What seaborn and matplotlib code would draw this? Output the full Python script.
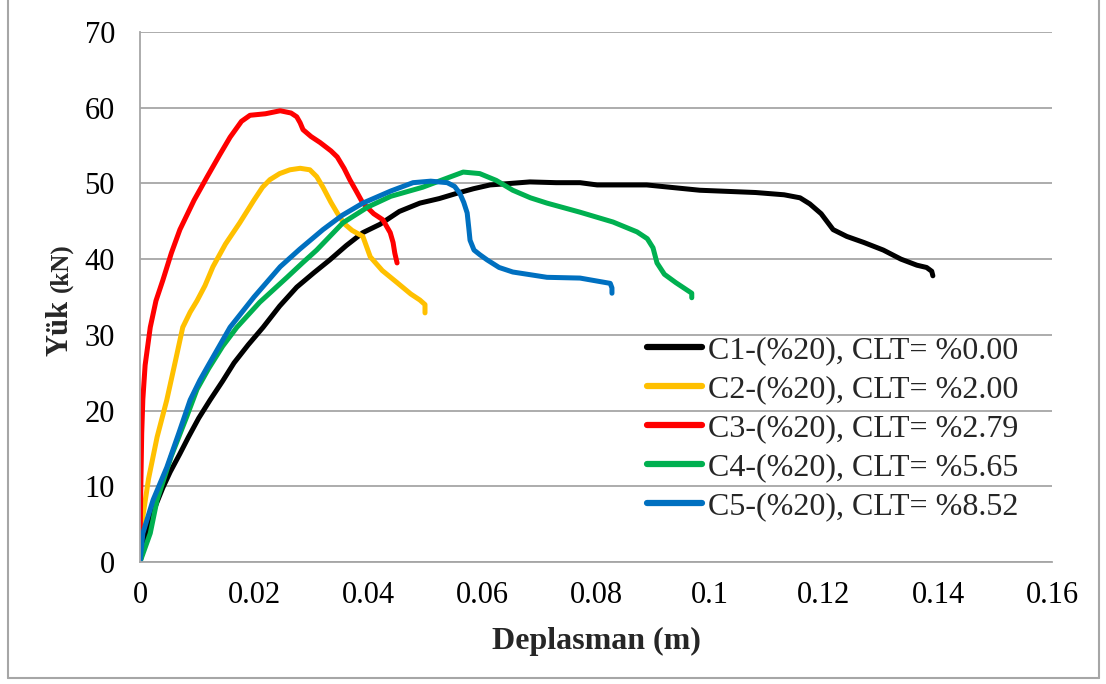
import numpy as np
import pandas as pd
import seaborn as sns
import matplotlib.pyplot as plt
from matplotlib.lines import Line2D

# ---- data ----
c1_x = [0.0, 0.001, 0.0025, 0.0040, 0.0053, 0.0070, 0.0085, 0.0103, 0.0123, 0.0145, 0.0165, 0.0190,
        0.0216, 0.0245, 0.0275, 0.0305, 0.0333, 0.0362, 0.0391, 0.0421, 0.0455, 0.0491, 0.0525,
        0.0556, 0.0585, 0.0614, 0.0650, 0.0684, 0.0730, 0.0772, 0.0802, 0.0889, 0.0982, 0.108,
        0.1130, 0.1158, 0.1175, 0.1195, 0.1216, 0.1240, 0.1270, 0.1304, 0.1335, 0.1363, 0.1380,
        0.1389, 0.1391]
c1_y = [0.0, 3.0, 7.0, 9.8, 11.9, 14.3, 16.5, 19.0, 21.4, 23.9, 26.3, 28.7,
        31.0, 33.8, 36.3, 38.2, 39.9, 41.8, 43.5, 44.6, 46.3, 47.4, 48.0,
        48.7, 49.3, 49.8, 50.0, 50.2, 50.1, 50.1, 49.8, 49.8, 49.1, 48.8,
        48.5, 48.1, 47.3, 46.0, 43.9, 43.0, 42.2, 41.2, 40.0, 39.2, 38.9,
        38.4, 37.8]

c2_x = [0.0, 0.0004, 0.0015, 0.0030, 0.0047, 0.0062, 0.0075, 0.0088, 0.0100, 0.0114, 0.0128, 0.0150,
        0.0175, 0.0200, 0.0215, 0.0228, 0.0245, 0.0263, 0.0281, 0.0298, 0.0310, 0.0321, 0.0335,
        0.0346, 0.0358, 0.0372, 0.0391, 0.0404, 0.0425, 0.0451, 0.0475, 0.0491, 0.0500, 0.0500]
c2_y = [0.0, 5.5, 11.0, 16.5, 21.4, 26.5, 31.0, 33.0, 34.5, 36.5, 39.0, 42.0,
        44.8, 47.8, 49.5, 50.5, 51.3, 51.8, 52.0, 51.8, 50.9, 49.5, 47.5,
        46.1, 44.7, 43.8, 43.0, 40.3, 38.5, 36.9, 35.4, 34.6, 34.0, 32.9]

c3_x = [0.0, 0.0001, 0.0003, 0.0005, 0.0009, 0.0018, 0.0028, 0.0040, 0.0055, 0.0070, 0.0095, 0.0118,
        0.0140, 0.0158, 0.0178, 0.0193, 0.0220, 0.0246, 0.0265, 0.0275, 0.0281, 0.0286, 0.0300,
        0.0316, 0.0335, 0.0346, 0.0358, 0.0368, 0.0380, 0.0391, 0.0410, 0.0426, 0.0439, 0.0444,
        0.0447, 0.0451]
c3_y = [0.0, 8.0, 17.0, 21.5, 26.0, 31.0, 34.5, 37.2, 40.8, 43.9, 47.8, 50.9,
        53.8, 56.1, 58.2, 59.0, 59.2, 59.6, 59.3, 58.8, 58.0, 57.1, 56.2,
        55.4, 54.3, 53.5, 52.0, 50.5, 48.9, 47.4, 46.0, 45.2, 43.5, 42.2,
        40.8, 39.5]

c4_x = [0.0, 0.0018, 0.0030, 0.0055, 0.0082, 0.0100, 0.0120, 0.0145, 0.0170, 0.0210, 0.0258, 0.0285,
        0.0310, 0.0356, 0.0400, 0.0440, 0.0496, 0.0535, 0.0567, 0.0596, 0.0625, 0.0654, 0.0685,
        0.0714, 0.0772, 0.0830, 0.0872, 0.0890, 0.0900, 0.0907, 0.0920, 0.0940, 0.0960, 0.0968,
        0.0968]
c4_y = [0.0, 3.8, 8.2, 14.0, 19.2, 22.8, 25.5, 28.5, 31.0, 34.3, 37.6, 39.5,
        41.2, 44.8, 46.9, 48.3, 49.5, 50.6, 51.5, 51.3, 50.4, 49.1, 48.1,
        47.4, 46.2, 44.9, 43.6, 42.7, 41.5, 39.5, 38.0, 36.9, 35.9, 35.5,
        34.9]

c5_x = [0.0, 0.0005, 0.0023, 0.0047, 0.0068, 0.0088, 0.0105, 0.0120, 0.0158, 0.0200, 0.0246, 0.0280,
        0.0321, 0.0355, 0.0391, 0.0440, 0.0479, 0.0510, 0.0539, 0.0552, 0.0561, 0.0568, 0.0574,
        0.0577, 0.0579, 0.0586, 0.0596, 0.0609, 0.0630, 0.0654, 0.0714, 0.0772, 0.0825, 0.0828,
        0.0828]
c5_y = [0.0, 3.8, 8.2, 12.5, 17.0, 21.4, 24.0, 26.0, 31.0, 35.0, 39.0, 41.3,
        43.9, 45.8, 47.4, 49.0, 50.1, 50.3, 50.1, 49.6, 48.7, 47.5, 46.1,
        44.0, 42.5, 41.2, 40.6, 39.9, 38.9, 38.3, 37.6, 37.5, 36.8, 36.2,
        35.5]

labels = ["C1-(%20), CLT= %0.00", "C2-(%20), CLT= %2.00", "C3-(%20), CLT= %2.79",
          "C4-(%20), CLT= %5.65", "C5-(%20), CLT= %8.52"]
colors = ["#000000", "#FFC000", "#FF0000", "#00B050", "#0070C0"]
x_ticks = [0, 0.02, 0.04, 0.06, 0.08, 0.1, 0.12, 0.14, 0.16]
x_tick_labels = ["0", "0.02", "0.04", "0.06", "0.08", "0.1", "0.12", "0.14", "0.16"]
y_ticks = [0, 10, 20, 30, 40, 50, 60, 70]

series = [(c1_x, c1_y), (c2_x, c2_y), (c3_x, c3_y), (c4_x, c4_y), (c5_x, c5_y)]
frames = []
for lab, (xs, ys) in zip(labels, series):
    frames.append(pd.DataFrame({"x": xs, "y": ys, "seri": lab}))
df = pd.concat(frames, ignore_index=True)

sns.set_theme(style="white")
plt.rcParams["font.family"] = ["Liberation Serif", "DejaVu Serif"]

fig = plt.figure(figsize=(11.06, 6.84), dpi=100)
ax = fig.add_axes([140 / 1106, 1 - 562 / 684, (1052 - 140) / 1106, (562 - 32) / 684])

sns.lineplot(data=df, x="x", y="y", hue="seri", hue_order=labels, palette=colors,
             sort=False, estimator=None, units="seri", linewidth=3.6, ax=ax,
             legend=False, solid_capstyle="round", solid_joinstyle="round")

ax.set_xlim(0, 0.16)
ax.set_ylim(0, 70)
ax.set_xticks(x_ticks)
ax.set_xticklabels(x_tick_labels)
ax.set_yticks(y_ticks)
ax.tick_params(axis="both", labelsize=22, length=0, colors="black")
ax.tick_params(axis="x", pad=14)
ax.tick_params(axis="y", pad=18)
ax.grid(axis="y", color="#a6a6a6", linewidth=1.3)
ax.grid(axis="x", visible=False)
for s in ["top", "right"]:
    ax.spines[s].set_visible(False)
for s in ["left", "bottom"]:
    ax.spines[s].set_color("#a6a6a6")
    ax.spines[s].set_linewidth(1.3)
ax.set_axisbelow(True)

ax.set_xlabel("Deplasman (m)", fontsize=23, fontweight="bold", labelpad=12)
ax.set_ylabel("")
fig.text(67 / 1106, 1 - 328 / 684, "Yük", rotation=90, fontsize=22, fontweight="bold",
         ha="center", va="baseline", rotation_mode="anchor")
fig.text(67 / 1106, 1 - 268 / 684, "(kN)", rotation=90, fontsize=18, fontweight="bold",
         ha="center", va="baseline", rotation_mode="anchor")

handles = [Line2D([0], [0], color=c, linewidth=4.5) for c in colors]
leg = ax.legend(handles, labels, loc="upper left", bbox_to_anchor=(647 / 1106, 1 - 336 / 684),
                bbox_transform=fig.transFigure, frameon=False, fontsize=23,
                handlelength=1.72, handletextpad=0.18, labelspacing=0.3, borderpad=0,
                borderaxespad=0)

# outer frame
for (x0, y0, x1, y1) in [(8, 0, 8, 678), (1099, 0, 1099, 678), (8, 678, 1099, 678)]:
    fig.add_artist(Line2D([x0 / 1106, x1 / 1106], [1 - y0 / 684, 1 - y1 / 684],
                          transform=fig.transFigure, color="#a6a6a6", linewidth=1.5))

fig.savefig("out.png", dpi=100)
